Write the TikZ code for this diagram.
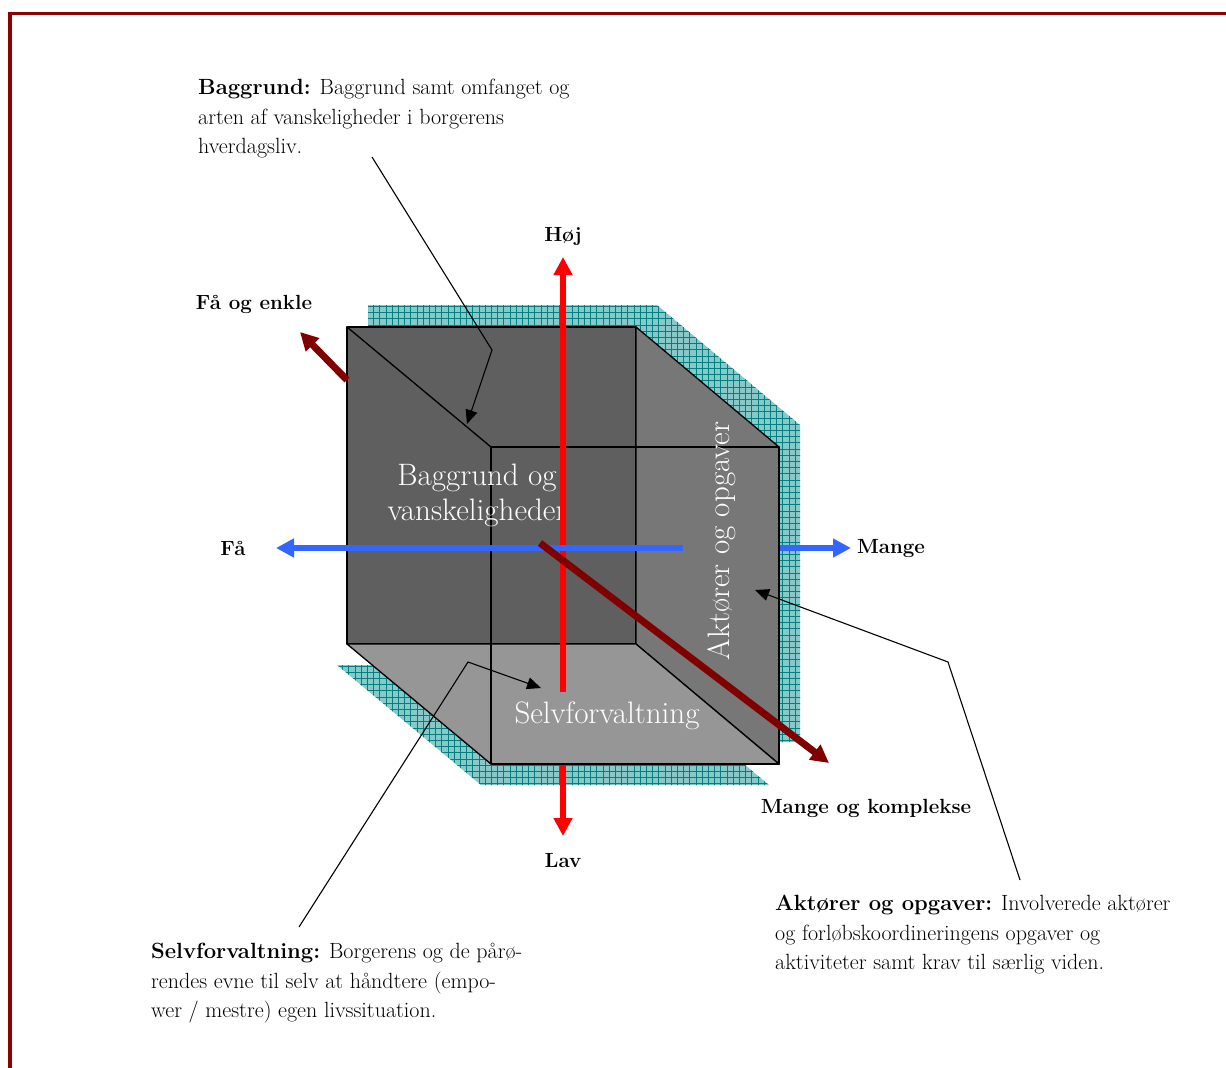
\documentclass[tikz,border=0pt]{standalone}
\usetikzlibrary{arrows.meta}
\definecolor{framered}{RGB}{139,0,0}
\definecolor{axisred}{RGB}{255,0,0}
\definecolor{axisblue}{RGB}{51,102,255}
\definecolor{axisdark}{RGB}{128,0,0}
\definecolor{tealfill}{RGB}{136,200,200}
\definecolor{tealline}{RGB}{0,128,128}
\definecolor{backgray}{RGB}{95,95,95}
\definecolor{sidegray}{RGB}{119,119,119}
\definecolor{bottomgray}{RGB}{150,150,150}
\begin{document}
\begin{tikzpicture}[x=1pt,y=-1pt,
  axis/.style={line width=6pt,-{Triangle[length=18pt,width=18pt]}},
  callout/.style={line width=1.1pt,-{Triangle[length=14pt,width=12pt]}},
  pole/.style={font=\fontsize{20.5}{24}\selectfont\bfseries,inner sep=0pt},
  facetext/.style={font=\fontsize{31}{35}\selectfont,text=white,align=center,inner sep=0pt},
  infotext/.style={font=\fontsize{22}{29.5}\selectfont,align=left,anchor=north west,inner sep=0pt},
  face/.style={draw=black,line width=1.3pt,line join=round},
  hatch/.style={tealline,line width=0.45pt}]

\useasboundingbox (0,0) rectangle (1226,1068);

% frame
\draw[framered,line width=3.5pt] (10,1068) -- (10,13.5) -- (1226,13.5);

% shadows
\begin{scope}
  \clip (368,305) -- (657,305) -- (800,425) -- (800,742) -- (512,742) -- (368,622) -- cycle;
  \fill[tealfill] (300,280) rectangle (820,800);
  \foreach \k in {0,...,80} {
    \draw[hatch] (330+6.2*\k,280) -- (330+6.2*\k,800);
    \draw[hatch] (300,300+6.2*\k) -- (820,300+6.2*\k);
  }
\end{scope}
\begin{scope}
  \clip (337,665) -- (626,665) -- (769,785) -- (481,785) -- cycle;
  \fill[tealfill] (300,640) rectangle (820,800);
  \foreach \k in {0,...,80} {
    \draw[hatch] (330+6.2*\k,640) -- (330+6.2*\k,800);
  }
  \foreach \k in {0,...,25} {
    \draw[hatch] (300,641+6.2*\k) -- (820,641+6.2*\k);
  }
\end{scope}

% cube
\coordinate (b1) at (347,327);
\coordinate (b2) at (636,327);
\coordinate (b3) at (636,644);
\coordinate (b4) at (347,644);
\coordinate (f1) at (491,447);
\coordinate (f2) at (779,447);
\coordinate (f3) at (779,764);
\coordinate (f4) at (491,764);

\filldraw[face,fill=backgray] (b1) -- (b2) -- (b3) -- (b4) -- cycle;
\filldraw[face,fill=sidegray] (b2) -- (f2) -- (f3) -- (b3) -- cycle;
\filldraw[face,fill=bottomgray] (b4) -- (b3) -- (f3) -- (f4) -- cycle;
\draw[face] (b1) -- (f1);
\draw[face] (f1) -- (f2) -- (f3) -- (f4) -- cycle;

\node[facetext] (baggrundface) at (477,495) {Baggrund og\\vanskeligheder};
\node[facetext] (selvface) at (607,716) {Selvforvaltning};
\node[facetext,rotate=90] (aktorface) at (722,541) {Aktører og opgaver};

% axes
\coordinate (redlow) at (563,692);
\coordinate (redlowout) at (563,765);
\coordinate (blueleft) at (683,548);
\coordinate (blueright) at (780,548);
\coordinate (darklow) at (540,543);
\coordinate (darkup) at (347,380);

\node[pole] (hoej) at (563,237) {Høj};
\node[pole] (lav) at (563,861) {Lav};
\node[pole] (faa) at (233,548) {Få};
\node[pole] (mange) at (891,549) {Mange};
\node[pole] (enkle) at (254,304) {Få og enkle};
\node[pole] (komplekse) at (866,808) {Mange og komplekse};

\draw[axis,axisred] (redlow) -- (563,257);
\draw[axis,axisred] (redlowout) -- (563,836);
\draw[axis,axisblue] (blueleft) -- (276,548);
\draw[axis,axisblue] (blueright) -- (851,548);
\draw[axis,axisdark,line width=7pt] (darklow) -- (829,763);
\draw[axis,axisdark,line width=7pt] (darkup) -- (300,332);

% descriptions
\node[infotext] (baggrund) at (198,79) {\textbf{Baggrund:} Baggrund samt omfanget og\\arten af vanskeligheder i borgerens\\hverdagsliv.};
\node[infotext] (selv) at (151,943) {\textbf{Selvforvaltning:} Borgerens og de pårø-\\rendes evne til selv at håndtere (empo-\\wer / mestre) egen livssituation.};
\node[infotext] (aktor) at (775,895) {\textbf{Aktører og opgaver:} Involverede aktører\\og forløbskoordineringens opgaver og\\aktiviteter samt krav til særlig viden.};

\coordinate (c1) at (372,157);
\coordinate (c2) at (299,927);
\coordinate (c3) at (1020,880);
\draw[callout] (c1) -- (492,350) -- (467,424);
\draw[callout] (c2) -- (468,662) -- (541,688);
\draw[callout] (c3) -- (948,662) -- (755,590);

\end{tikzpicture}
\end{document}
